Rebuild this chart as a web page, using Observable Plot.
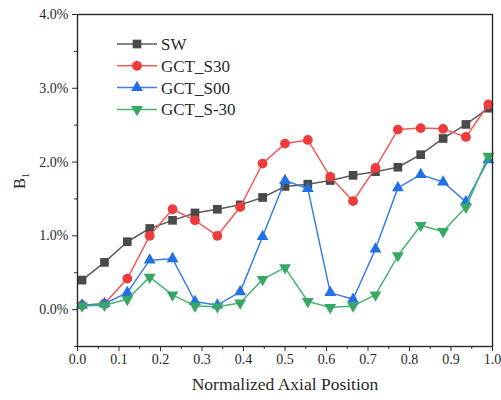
<!DOCTYPE html>
<html><head><meta charset="utf-8">
<script src="https://cdn.jsdelivr.net/npm/d3@7"></script>
<script src="https://cdn.jsdelivr.net/npm/@observablehq/plot@0.6"></script>
<style>body{margin:0;background:#fff}</style>
</head><body><div id="chart"></div>
<script>
const xPos = [0.011, 0.065, 0.120, 0.174, 0.229, 0.283, 0.337, 0.392, 0.446, 0.500, 0.555, 0.609, 0.664, 0.718, 0.772, 0.827, 0.881, 0.936, 0.990];
const sw   = [0.40, 0.64, 0.92, 1.10, 1.21, 1.31, 1.36, 1.42, 1.52, 1.67, 1.70, 1.75, 1.82, 1.87, 1.93, 2.10, 2.32, 2.51, 2.73];
const s30  = [0.06, 0.08, 0.42, 1.00, 1.36, 1.21, 1.00, 1.39, 1.98, 2.25, 2.30, 1.80, 1.47, 1.92, 2.44, 2.46, 2.45, 2.34, 2.78];
const s00  = [0.06, 0.08, 0.23, 0.67, 0.69, 0.11, 0.06, 0.24, 0.99, 1.75, 1.64, 0.23, 0.14, 0.82, 1.65, 1.83, 1.73, 1.46, 2.03];
const sm30 = [0.05, 0.06, 0.14, 0.44, 0.20, 0.05, 0.04, 0.09, 0.41, 0.57, 0.11, 0.03, 0.05, 0.20, 0.73, 1.14, 1.06, 1.39, 2.08];
const seriesNames = ["SW", "GCT_S30", "GCT_S00", "GCT_S-30"];
const xTicks = [0, 0.1, 0.2, 0.3, 0.4, 0.5, 0.6, 0.7, 0.8, 0.9, 1.0];
const xMinor = [0.05, 0.15, 0.25, 0.35, 0.45, 0.55, 0.65, 0.75, 0.85, 0.95];
const yTicks = [0, 1, 2, 3, 4];
const yMinor = [-0.5, 0.5, 1.5, 2.5, 3.5];

const FONT = "'Liberation Serif', 'Times New Roman', serif";

const styles = [
  {values: sw,   fill: "#4a4a4a", line: "#5c5c5c", symbol: "square",   d3sym: d3.symbolSquare,   r: 4.9, rotate: 0},
  {values: s30,  fill: "#ee3b3b", line: "#f25a5a", symbol: "circle",   d3sym: d3.symbolCircle,   r: 4.9, rotate: 0},
  {values: s00,  fill: "#2270e6", line: "#3a7fe8", symbol: "triangle", d3sym: d3.symbolTriangle, r: 4.4, rotate: 0},
  {values: sm30, fill: "#36a862", line: "#48b272", symbol: "triangle", d3sym: d3.symbolTriangle, r: 4.4, rotate: 180}
];

const rows = seriesNames.flatMap((name, k) => xPos.map((x, i) => ({series: name, x, y: styles[k].values[i]})));

const marks = [];
seriesNames.forEach((name, k) => {
  const s = styles[k];
  const d = rows.filter(r => r.series === name);
  marks.push(Plot.line(d, {x: "x", y: "y", stroke: s.line, strokeWidth: 1.5}));
  marks.push(Plot.dot(d, {x: "x", y: "y", symbol: s.symbol, r: s.r, fill: s.fill, stroke: "none", rotate: s.rotate}));
});

const plot = Plot.plot({
  width: 501, height: 400,
  marginLeft: 77, marginRight: 9, marginTop: 14, marginBottom: 54,
  x: {domain: [0, 1]},
  y: {domain: [-0.5, 4]},
  style: {fontFamily: FONT, fontSize: "14px", color: "#2a2a2a", background: "white"},
  marks: [
    Plot.axisX(xMinor, {tickSize: 3, tickFormat: () => "", label: null}),
    Plot.axisX(xTicks, {tickSize: 5, tickPadding: 3, tickFormat: d => d.toFixed(1), label: null}),
    Plot.axisY(yMinor, {tickSize: 3, tickFormat: () => "", label: null}),
    Plot.axisY(yTicks, {tickSize: 5, tickPadding: 4, tickFormat: d => d.toFixed(1) + "%", label: null}),
    ...marks,
    Plot.frame({stroke: "#2a2a2a", strokeWidth: 1.4})
  ]
});
document.getElementById("chart").appendChild(plot);

const svg = d3.select(plot);
svg.append("text")
  .attr("x", 285).attr("y", 390)
  .attr("text-anchor", "middle")
  .style("font-family", FONT).attr("font-size", 17.5).attr("fill", "#2a2a2a")
  .text("Normalized Axial Position");

const yl = svg.append("text")
  .attr("transform", "translate(25,181) rotate(-90)")
  .attr("text-anchor", "middle")
  .style("font-family", FONT).attr("font-size", 16.5).attr("fill", "#2a2a2a");
yl.append("tspan").text("B");
yl.append("tspan").attr("font-size", 10).attr("dy", 4).text("1");

const leg = svg.append("g");
seriesNames.forEach((name, k) => {
  const s = styles[k];
  const y = 44 + k * 21.8;
  leg.append("line").attr("x1", 117).attr("x2", 157).attr("y1", y).attr("y2", y)
    .attr("stroke", s.line).attr("stroke-width", 1.5);
  leg.append("path")
    .attr("d", d3.symbol(s.d3sym, Math.PI * s.r * s.r)())
    .attr("transform", `translate(137,${y}) rotate(${s.rotate})`)
    .attr("fill", s.fill);
  leg.append("text").attr("x", 161).attr("y", y).attr("dy", "0.35em")
    .attr("text-anchor", "start")
    .style("font-family", FONT).attr("font-size", 17).attr("fill", "#2a2a2a")
    .text(name);
});
</script>
</body></html>
